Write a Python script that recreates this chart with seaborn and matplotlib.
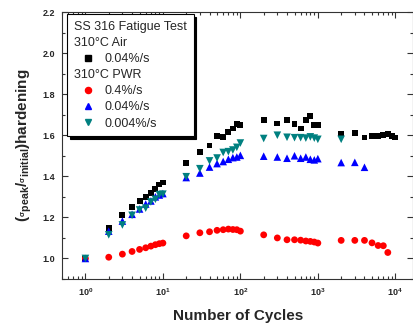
import numpy as np
import pandas as pd
import matplotlib
matplotlib.use("Agg")
import matplotlib.pyplot as plt
import seaborn as sns
from matplotlib.lines import Line2D
from matplotlib.ticker import FixedLocator, MultipleLocator, FuncFormatter, LogLocator, NullFormatter

# ---------------- data ----------------
dec1 = [1, 2, 3, 4, 5, 6, 7, 8, 9, 10]
dec2 = [20, 30, 40, 50, 60, 70, 80, 90, 100]
dec3 = [200, 300, 400, 500, 600, 700, 800, 900, 1000]

N_air = dec1 + dec2 + dec3 + [2000, 3000, 4000, 5000, 6000, 7000, 8000, 9000, 10000]
air_004 = [1.0, 1.15, 1.21, 1.25, 1.28, 1.30, 1.32, 1.34, 1.36, 1.37,
           1.465, 1.52, 1.55, 1.595, 1.59, 1.615, 1.633, 1.654, 1.649,
           1.673, 1.657, 1.673, 1.654, 1.633, 1.673, 1.693, 1.649, 1.649,
           1.608, 1.613, 1.589, 1.595, 1.595, 1.603, 1.608, 1.598, 1.589]

N_pwr_04 = dec1 + dec2 + dec3 + [2000, 3000, 4000, 5000, 6000, 7000, 8000]
pwr_04 = [1.0, 1.006, 1.021, 1.034, 1.044, 1.052, 1.06, 1.067, 1.072, 1.075,
          1.11, 1.125, 1.13, 1.137, 1.14, 1.143, 1.141, 1.14, 1.133,
          1.115, 1.10, 1.091, 1.091, 1.089, 1.085, 1.083, 1.08, 1.075,
          1.088, 1.088, 1.088, 1.076, 1.063, 1.062, 1.029]

N_pwr_004 = dec1 + dec2 + dec3 + [2000, 3000, 4000]
pwr_004 = [1.0, 1.133, 1.182, 1.215, 1.241, 1.265, 1.28, 1.30, 1.309, 1.316,
           1.394, 1.416, 1.445, 1.462, 1.472, 1.483, 1.491, 1.494, 1.502,
           1.498, 1.494, 1.488, 1.50, 1.488, 1.494, 1.483, 1.48, 1.486,
           1.467, 1.468, 1.444]

N_pwr_0004 = dec1 + dec2 + dec3 + [2000]
pwr_0004 = [1.0, 1.115, 1.163, 1.21, 1.236, 1.245, 1.275, 1.288, 1.311, 1.313,
            1.398, 1.437, 1.475, 1.489, 1.516, 1.52, 1.528, 1.541, 1.562,
            1.584, 1.60, 1.59, 1.588, 1.588, 1.586, 1.592, 1.586, 1.58,
            1.58]

series_labels = ["0.04%/s", "0.4%/s", "0.04%/s", "0.004%/s"]
y_ticks = [1.0, 1.2, 1.4, 1.6, 1.8, 2.0, 2.2]
x_ticks = [1, 10, 100, 1000, 10000]

# ---------------- style ----------------
sns.set_theme(style="ticks")
plt.rcParams["font.family"] = ["Liberation Sans", "DejaVu Sans"]
plt.rcParams["mathtext.default"] = "regular"

fig = plt.figure(figsize=(4.14, 3.29), dpi=100)
ax = fig.add_axes([0.150, 0.152, 0.848, 0.8115])

specs = [
    (N_air, air_004, "s", "#000000", 18),
    (N_pwr_04, pwr_04, "o", "#ff0000", 24),
    (N_pwr_004, pwr_004, "^", "#0000ff", 30),
    (N_pwr_0004, pwr_0004, "v", "#008080", 30),
]
handles = []
for (n, v, m, c, s), lab in zip(specs, series_labels):
    df = pd.DataFrame({"N": n, "v": v})
    sns.scatterplot(data=df, x="N", y="v", marker=m, color=c, s=s,
                    edgecolor="none", linewidth=0, ax=ax, legend=False, zorder=3)
    handles.append(Line2D([], [], linestyle="none", marker=m, color=c,
                          markersize=np.sqrt(s) * 0.9))

ax.set_xscale("log")
ax.set_xlim(0.5, 17000)
ax.set_ylim(0.9, 2.2)

ax.xaxis.set_major_locator(FixedLocator(x_ticks))
ax.xaxis.set_minor_locator(LogLocator(base=10, subs=np.arange(2, 10), numticks=20))
ax.xaxis.set_minor_formatter(NullFormatter())
ax.xaxis.set_major_formatter(FuncFormatter(lambda v, p: r"$\mathregular{10^{%d}}$" % int(round(np.log10(v)))))
ax.yaxis.set_major_locator(FixedLocator(y_ticks))
ax.yaxis.set_minor_locator(MultipleLocator(0.1))
ax.yaxis.set_major_formatter(FuncFormatter(lambda v, p: "%.1f" % v))

ax.tick_params(which="both", direction="in", top=True, right=True, width=0.8, color="#333333")
ax.tick_params(which="major", length=4, labelsize=6.5, pad=5)
ax.tick_params(which="minor", length=2)
for lbl in ax.get_xticklabels() + ax.get_yticklabels():
    lbl.set_fontweight("bold")
for sp in ax.spines.values():
    sp.set_linewidth(0.8)
    sp.set_color("#333333")

ax.set_xlabel("Number of Cycles", fontsize=11, fontweight="bold", labelpad=8)
ax.set_ylabel(r"($\mathregular{_{^{\sigma}peak}/_{^{\sigma}initial}}$)hardening",
              fontsize=11, fontweight="bold", labelpad=6)

blank = Line2D([], [], linestyle="none")
leg_handles = [blank, handles[0], blank, handles[1], handles[2], handles[3]]
leg_labels = ["310°C Air", series_labels[0], "310°C PWR",
              series_labels[1], series_labels[2], series_labels[3]]
leg = ax.legend(leg_handles, leg_labels, loc="upper left",
                bbox_to_anchor=(0.014, 0.993), borderaxespad=0,
                fontsize=9, title="SS 316 Fatigue Test", title_fontsize=9,
                alignment="left", frameon=True, fancybox=False,
                shadow={"color": "black", "alpha": 1.0},
                handlelength=2.2, handletextpad=0.25, labelspacing=0.33,
                borderpad=0.55, numpoints=1)
leg.get_frame().set_edgecolor("black")
leg.get_frame().set_linewidth(0.8)
# headings without handle
col = leg._legend_handle_box.get_children()[0]
rows = col.get_children()
for i in (0, 2):
    rows[i]._children = [rows[i]._children[1]]

fig.savefig("out.png", dpi=100)
